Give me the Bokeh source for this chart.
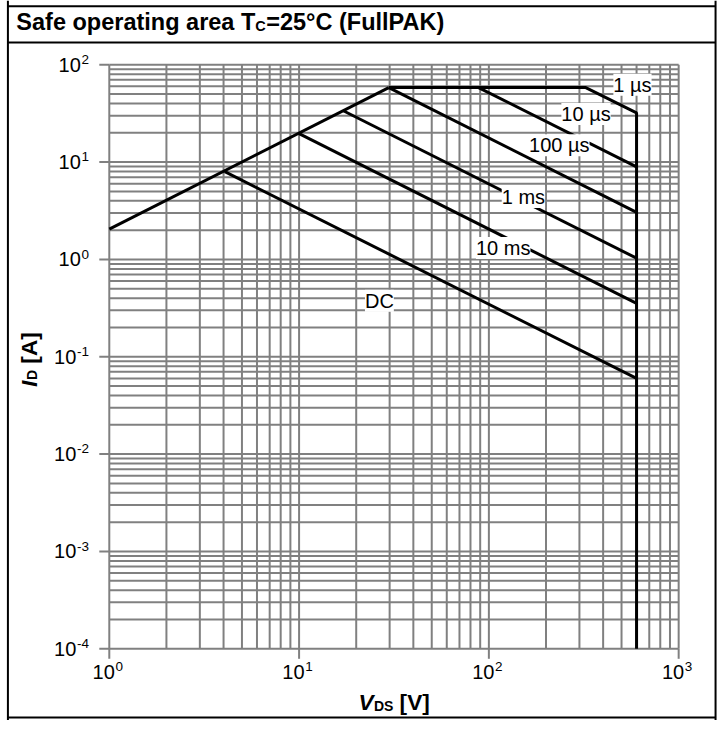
import math
from bokeh.plotting import figure
from bokeh.models import LabelSet, ColumnDataSource, Range1d, LogScale
from bokeh.core.properties import value
from bokeh.embed import file_html
from bokeh.resources import INLINE

# ---- data ----
limit_v = [1.0, 29.7]
limit_i = [2.05, 58.3]
us1_v = [29.7, 324.0, 600.0, 600.0]
us1_i = [58.3, 58.3, 32.0, 1e-4]
us10_v = [88.2, 600.0]
us10_i = [58.3, 8.95]
us100_v = [29.7, 600.0]
us100_i = [58.3, 3.04]
ms1_v = [17.1, 600.0]
ms1_i = [33.7, 1.03]
ms10_v = [10.0, 600.0]
ms10_i = [19.6, 0.354]
dc_v = [4.06, 600.0]
dc_i = [7.97, 0.06]

curve_labels = ["1 µs", "10 µs", "100 µs", "1 ms", "10 ms", "DC"]
label_v = [571.0, 325.0, 235.0, 152.0, 119.0, 26.5]
label_i = [62.5, 31.2, 14.9, 4.37, 1.31, 0.376]

x_ticks = [1, 10, 100, 1000]
x_tick_exp = ["0", "1", "2", "3"]
y_ticks = [1e-4, 1e-3, 1e-2, 1e-1, 1, 10, 100]
y_tick_exp = ["-4", "-3", "-2", "-1", "0", "1", "2"]

x_minor = [k * 10 ** n for n in range(0, 3) for k in range(2, 10)]
y_minor = [k * 10.0 ** n for n in range(-4, 2) for k in range(2, 10)]

title_parts = ["Safe operating area T", "C", "=25°C (FullPAK)"]
xlabel_parts = ["V", "DS", "[V]"]
ylabel_parts = ["I", "D", "[A]"]

FONT = "Liberation Sans"
GRID = "#808080"

# ---- geometry: reference picture coordinates mapped onto the canvas ----
W = H = 720
KX, KY = W / 728, H / 736
MID = 0.3465  # distance (in em) from alphabetic baseline to the middle of the text box


def cx(rx):
    return rx * KX


def cdown(ry):
    return ry * KY


FX0, FX1 = cx(110), cx(685.7)
FYT, FYB = H - cdown(65.7), H - cdown(662.7)
XDEC = (FX1 - FX0) / 3
YDEC = (FYT - FYB) / 6

p = figure(width=W, height=H, x_range=Range1d(0, W), y_range=Range1d(0, H),
           x_axis_type=None, y_axis_type=None, output_backend="svg",
           toolbar_location=None, min_border=0)
p.title.visible = False
p.outline_line_color = None
p.background_fill_color = "white"
p.border_fill_color = "white"
p.extra_x_ranges = {"v": Range1d(10 ** (-FX0 / XDEC), 10 ** ((W - FX0) / XDEC))}
p.extra_x_scales = {"v": LogScale()}
p.extra_y_ranges = {"i": Range1d(10 ** (-4 - FYB / YDEC), 10 ** (2 + (H - FYT) / YDEC))}
p.extra_y_scales = {"i": LogScale()}
LOG = dict(x_range_name="v", y_range_name="i")


def txt(x, y, text, size, style="normal", align="left", angle=0.0, **kw):
    p.text(x=x, y=y, text=text, text_font=value(FONT), text_font_size=f"{size}px",
           text_font_style=style, text_align=align, text_baseline="middle",
           angle=angle, text_color="black", **kw)


# ---- grid (major + minor decades) ----
xg = sorted(x_ticks + x_minor)
yg = sorted(y_ticks + y_minor)
p.segment(x0=xg, y0=[y_ticks[0]] * len(xg), x1=xg, y1=[y_ticks[-1]] * len(xg),
          line_color=GRID, line_width=2, **LOG)
p.segment(x0=[x_ticks[0]] * len(yg), y0=yg, x1=[x_ticks[-1]] * len(yg), y1=yg,
          line_color=GRID, line_width=2, **LOG)

# ---- major tick marks ----
p.segment(x0=[FX0 - 10] * len(y_ticks), y0=y_ticks, x1=[FX0] * len(y_ticks), y1=y_ticks,
          line_color=GRID, line_width=2, y_range_name="i")
p.segment(x0=x_ticks, y0=[FYB - 10] * len(x_ticks), x1=x_ticks, y1=[FYB] * len(x_ticks),
          line_color=GRID, line_width=2, x_range_name="v")

# ---- tick labels: "10" with raised exponent ----
MAIN_FS, EXP_FS = 20, 13.5
xb = cdown(693.3)                      # baseline of "10" under the x axis
txt(x_ticks, [H - (xb - MID * MAIN_FS)] * len(x_ticks), ["10"] * len(x_ticks), MAIN_FS,
    align="right", x_offset=5.5, x_range_name="v")
txt(x_ticks, [H - (xb - 8 - MID * EXP_FS)] * len(x_ticks), x_tick_exp, EXP_FS,
    align="left", x_offset=6.2, x_range_name="v")


def exp_width(s):
    return sum((0.333 if ch == "-" else 0.556) * EXP_FS for ch in s)


YR = cx(89.5)
raise_px = 5.3
txt([YR] * len(y_ticks), [t * 10 ** (raise_px / YDEC) for t in y_ticks], y_tick_exp, EXP_FS,
    align="right", y_range_name="i")
txt([YR - exp_width(e) - 0.7 for e in y_tick_exp], y_ticks, ["10"] * len(y_ticks), MAIN_FS,
    align="right", y_range_name="i")

# ---- SOA curves ----
for vs, is_ in ((limit_v, limit_i), (us1_v, us1_i), (us10_v, us10_i), (us100_v, us100_i),
                (ms1_v, ms1_i), (ms10_v, ms10_i), (dc_v, dc_i)):
    p.line(vs, is_, line_color="black", line_width=3, **LOG)

src = ColumnDataSource(dict(x=label_v, y=label_i, t=curve_labels))
p.add_layout(LabelSet(x="x", y="y", text="t", source=src, text_align="center",
                      text_baseline="middle", text_font=value(FONT), text_font_size="20px",
                      text_color="black", background_fill_color="white", **LOG))

# ---- frame of the table ----
BL = dict(line_color="black", line_width=2)
p.segment(x0=[cx(7.5), cx(723)], y0=[0, 0], x1=[cx(7.5), cx(723)], y1=[H, H], **BL)
hy = [H - cdown(6), H - cdown(43), H - cdown(733)]
p.segment(x0=[cx(7.5)] * 3, y0=hy, x1=[cx(723)] * 3, y1=hy, **BL)

# ---- title ----
TFS, TSUB = 23.5, 14.5
tb = cdown(30.7)
tx0 = cx(16)
tx = [tx0, tx0 + 10.17 * TFS, tx0 + 10.17 * TFS + 0.722 * TSUB + 0.4]
for t, xx, sz in zip(title_parts, tx, [TFS, TSUB, TFS]):
    txt([xx], [H - (tb - MID * sz)], [t], sz, style="bold")

# ---- x axis title ----
AFS, ASUB = 22.6, 14
xb2 = cdown(726.7) - 0.8
xx0 = cx(362)
xpos = [xx0, xx0 + 0.667 * AFS + 0.3, xx0 + 0.667 * AFS + 0.3 + 1.389 * ASUB + 0.278 * AFS]
for t, xx, sz, st in zip(xlabel_parts, xpos, [AFS, ASUB, AFS], ["bold italic", "bold", "bold"]):
    txt([xx], [H - (xb2 - MID * sz)], [t], sz, style=st)

# ---- y axis title (rotated, reading upwards) ----
ybx = cx(37)                            # baseline position (x) of the rotated title
yy0 = H - cdown(395)
ypos = [yy0, yy0 + 0.278 * AFS + 0.6, yy0 + 0.278 * AFS + 0.6 + 0.722 * ASUB + 0.278 * AFS]
for t, yy, sz, st in zip(ylabel_parts, ypos, [AFS, ASUB, AFS], ["bold italic", "bold", "bold"]):
    txt([ybx - MID * sz], [yy], [t], sz, style=st, angle=math.pi / 2)

open("out.html", "w").write(file_html(p, INLINE))
